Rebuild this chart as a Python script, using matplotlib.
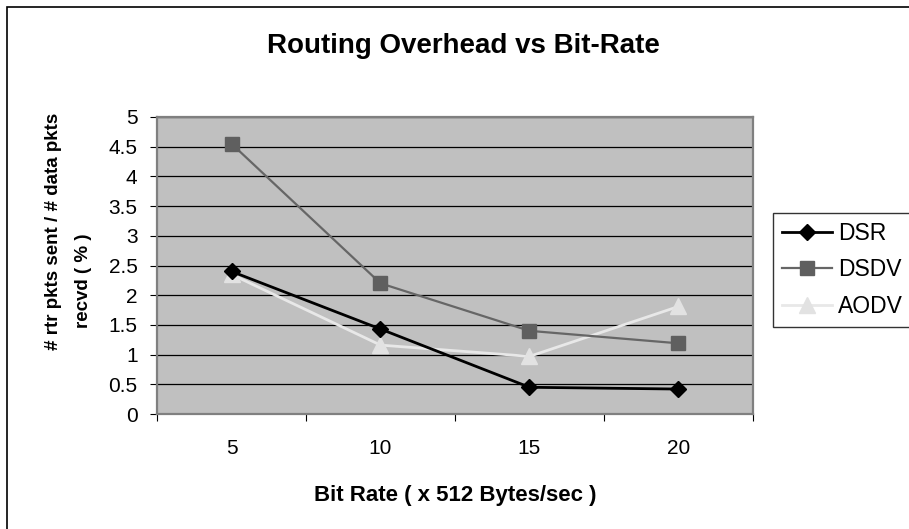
import matplotlib
matplotlib.use("Agg")
import matplotlib.pyplot as plt
from matplotlib.patches import Rectangle

plt.rcParams['font.family'] = ['Liberation Sans', 'DejaVu Sans']

# bit rate categories and routing overhead per protocol
bit_rates = ['5', '10', '15', '20']
dsr = [2.40, 1.43, 0.45, 0.42]
dsdv = [4.55, 2.20, 1.40, 1.19]
aodv = [2.35, 1.16, 0.97, 1.81]
y_ticks = [0, 0.5, 1, 1.5, 2, 2.5, 3, 3.5, 4, 4.5, 5]

W, H = 909, 529
fig = plt.figure(figsize=(W / 100, H / 100), dpi=100)

# plot area in pixels: x 157..753, y 117..414
ax = fig.add_axes([157 / W, 1 - 414 / H, (753 - 157) / W, (414 - 117) / H])
ax.set_facecolor('#C0C0C0')

x = list(range(1, len(bit_rates) + 1))
ax.plot(x, dsr, color='black', lw=2, marker='D', ms=8, label='DSR', zorder=5)
ax.plot(x, dsdv, color='#666666', lw=1.6, marker='s', ms=10, mfc='#5F5F5F', mec='#5F5F5F', label='DSDV', zorder=4)
ax.plot(x, aodv, color='#E8E8E8', lw=2, marker='^', ms=12, mfc='#E2E2E2', mec='#E2E2E2', label='AODV', zorder=3)

ax.set_xlim(0.5, len(bit_rates) + 0.5)
ax.set_ylim(0, 5)
ax.set_yticks(y_ticks)
ax.set_yticklabels(['%g' % v for v in y_ticks])
ax.yaxis.grid(True, color='black', lw=0.9)
ax.set_axisbelow(True)

# category ticks sit at boundaries, labels at centres
ax.set_xticks([i + 0.5 for i in range(len(bit_rates) + 1)])
ax.set_xticklabels([])
ax.set_xticks(x, minor=True)
ax.set_xticklabels(bit_rates, minor=True)
ax.tick_params(axis='both', which='major', direction='out', length=5, width=0.8, color='black')
ax.tick_params(axis='both', which='both', labelsize=15)
ax.tick_params(axis='x', which='minor', length=0, pad=18)
ax.tick_params(axis='y', pad=9)

for s in ax.spines.values():
    s.set_color('#808080')
    s.set_linewidth(1.6)

fig.text(463 / W, 1 - 53 / H, 'Routing Overhead vs Bit-Rate', ha='center', va='baseline',
         fontsize=20, fontweight='bold')
fig.text(455 / W, 1 - 495 / H, 'Bit Rate ( x 512 Bytes/sec )', ha='center', va='center',
         fontsize=16, fontweight='bold')
# axis title wraps onto two lines
fig.text(54 / W, 1 - 231 / H, '# rtr pkts sent / # data pkts', ha='center', va='center',
         rotation=90, fontsize=13.5, fontweight='bold')
fig.text(83 / W, 1 - 281 / H, 'recvd ( % )', ha='center', va='center',
         rotation=90, fontsize=13.5, fontweight='bold')

leg = fig.legend(loc='upper left', bbox_to_anchor=(773 / W, 1 - 213 / H), fontsize=16.5,
                 frameon=True, fancybox=False, edgecolor='black', handlelength=2.2,
                 handletextpad=0.25, labelspacing=0.6, borderpad=0.38, borderaxespad=0)
leg.get_frame().set_linewidth(1.0)

# chart area border (runs off the right and bottom of the picture)
fig.patches.append(Rectangle((7 / W, -0.2), 1.2, 1 - 7 / H + 0.2, transform=fig.transFigure,
                             fill=False, edgecolor='black', lw=1.2))

fig.savefig('out.png', dpi=100)
